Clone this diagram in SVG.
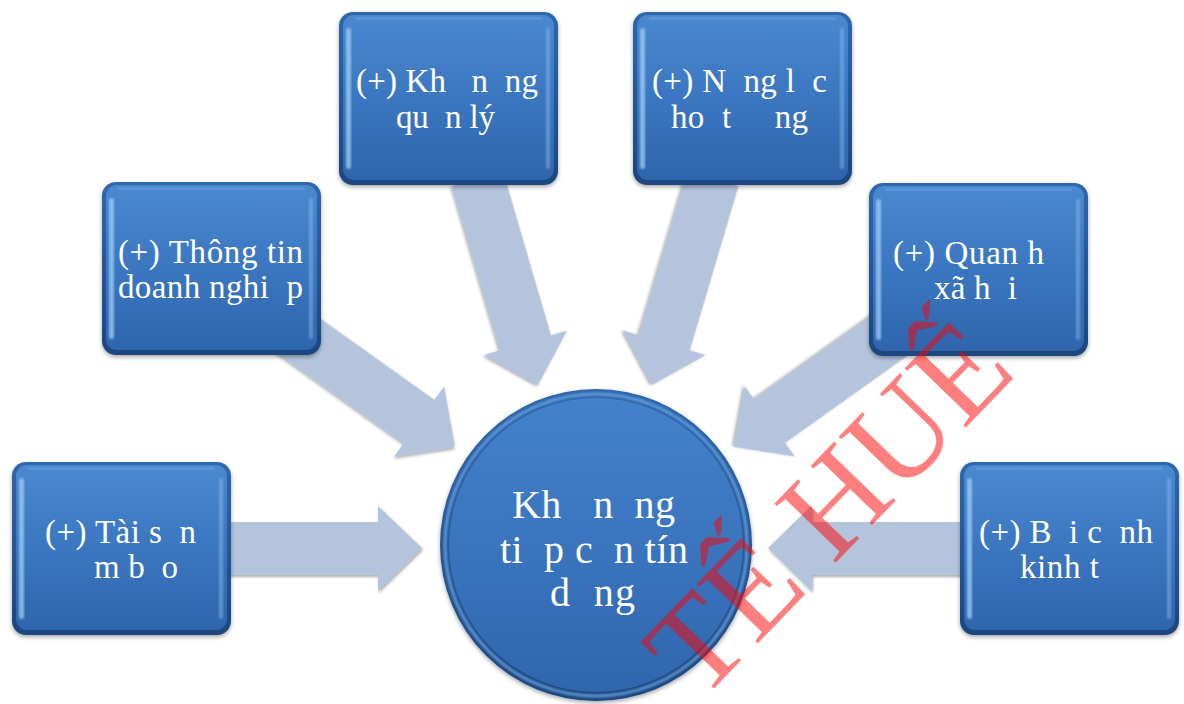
<svg xmlns="http://www.w3.org/2000/svg" xmlns:xlink="http://www.w3.org/1999/xlink" width="1184" height="704" viewBox="0 0 1184 704">
<defs>
<style>
.lbl{font-family:"Liberation Serif","Times New Roman",serif;font-size:33px;fill:#ffffff;white-space:pre}
.big{font-size:40px}
.arrow{fill:#b5c4dd;filter:url(#ashadow)}
.wm{font-family:"Liberation Serif","Times New Roman",serif;font-size:130px;fill:#ff0000;fill-opacity:0.5}
</style>
<linearGradient id="rim" x1="0" y1="0" x2="0" y2="1">
<stop offset="0" stop-color="#2f67ae"/><stop offset="1" stop-color="#1c467f"/>
</linearGradient>
<linearGradient id="face" x1="0" y1="0" x2="0" y2="1">
<stop offset="0" stop-color="#4a88cf"/><stop offset="0.5" stop-color="#3b77c0"/><stop offset="1" stop-color="#2f65ac"/>
</linearGradient>
<linearGradient id="cface" x1="0" y1="0" x2="0" y2="1">
<stop offset="0" stop-color="#4382cb"/><stop offset="0.6" stop-color="#3872bb"/><stop offset="1" stop-color="#3066ad"/>
</linearGradient>
<filter id="bshadow" x="-10%" y="-10%" width="120%" height="125%">
<feDropShadow dx="0" dy="2" stdDeviation="2" flood-color="#000" flood-opacity="0.35"/>
</filter>
<filter id="ashadow" x="-10%" y="-20%" width="120%" height="140%">
<feDropShadow dx="1" dy="2" stdDeviation="1.5" flood-color="#3a4556" flood-opacity="0.45"/>
</filter>
<filter id="soft"><feGaussianBlur stdDeviation="1"/></filter>
<g id="boxshape">
<rect x="0" y="0" width="219" height="173" rx="14" fill="url(#rim)" filter="url(#bshadow)"/>
<rect x="4" y="3" width="211" height="165" rx="11" fill="url(#face)"/>
<rect x="7" y="16" width="5" height="141" rx="2.5" fill="#a3cff7" opacity="0.75" filter="url(#soft)"/>
<rect x="207" y="16" width="4" height="141" rx="2" fill="#8cbcec" opacity="0.5" filter="url(#soft)"/>
<rect x="16" y="5" width="187" height="3" rx="1.5" fill="#79aee6" opacity="0.35"/>
</g>
<polygon id="arr" points="-215,-26.5 -44,-26.5 -44,-43 0,0 -44,43 -44,26.5 -215,26.5"/>
</defs>
<rect width="1184" height="704" fill="#ffffff"/>

<g id="connectors">
<polygon class="arrow" points="222,522 378,522 378,506 422,548 378,591 378,575 222,575"/>
<polygon class="arrow" points="968,522 812,522 812,505 768,548 812,591 812,575 968,575"/>
<use xlink:href="#arr" class="arrow" transform="translate(455,447) rotate(35.5)"/>
<use xlink:href="#arr" class="arrow" transform="translate(538,385) rotate(73.7)"/>
<use xlink:href="#arr" class="arrow" transform="translate(652,385) rotate(106.5)"/>
<use xlink:href="#arr" class="arrow" transform="translate(734,447) rotate(144.5)"/>
</g>

<g id="node-quanly">
<use xlink:href="#boxshape" x="339" y="12"/>
<text class="lbl" xml:space="preserve" x="356" y="92" textLength="182" lengthAdjust="spacing">(+) Kh   n  ng</text>
<text class="lbl" xml:space="preserve" x="396" y="128" textLength="99" lengthAdjust="spacing">qu  n lý</text>
</g>
<g id="node-nangluc">
<use xlink:href="#boxshape" x="633" y="12"/>
<text class="lbl" xml:space="preserve" x="652" y="92" textLength="175" lengthAdjust="spacing">(+) N  ng l  c</text>
<text class="lbl" xml:space="preserve" x="671" y="128" textLength="137" lengthAdjust="spacing">ho  t     ng</text>
</g>
<g id="node-thongtin">
<use xlink:href="#boxshape" x="102" y="182"/>
<text class="lbl" xml:space="preserve" x="118" y="263" textLength="185" lengthAdjust="spacing">(+) Thông tin</text>
<text class="lbl" xml:space="preserve" x="118" y="298" textLength="185" lengthAdjust="spacing">doanh nghi  p</text>
</g>
<g id="node-quanhe">
<use xlink:href="#boxshape" x="869" y="183"/>
<text class="lbl" xml:space="preserve" x="893" y="264" textLength="151" lengthAdjust="spacing">(+) Quan h</text>
<text class="lbl" xml:space="preserve" x="934" y="299" textLength="83" lengthAdjust="spacing">xã h  i</text>
</g>
<g id="node-taisan">
<use xlink:href="#boxshape" x="12" y="462"/>
<text class="lbl" xml:space="preserve" x="45" y="543" textLength="151" lengthAdjust="spacing">(+) Tài s  n</text>
<text class="lbl" xml:space="preserve" x="94" y="578" textLength="84" lengthAdjust="spacing">m b  o</text>
</g>
<g id="node-boicanh">
<use xlink:href="#boxshape" x="960" y="462"/>
<text class="lbl" xml:space="preserve" x="979" y="543" textLength="174" lengthAdjust="spacing">(+) B  i c  nh</text>
<text class="lbl" xml:space="preserve" x="1020" y="578" textLength="79" lengthAdjust="spacing">kinh t</text>
</g>
<g id="node-center">
<circle cx="596" cy="545" r="156" fill="url(#rim)" filter="url(#bshadow)"/>
<circle cx="596" cy="545" r="151" fill="none" stroke="#6ea7e2" stroke-width="3" opacity="0.8" filter="url(#soft)"/>
<circle cx="596" cy="545" r="147" fill="url(#cface)"/>
<text class="lbl big" xml:space="preserve" x="512" y="518" textLength="163" lengthAdjust="spacing">Kh   n  ng</text>
<text class="lbl big" xml:space="preserve" x="500" y="563" textLength="188" lengthAdjust="spacing">ti  p c  n tín</text>
<text class="lbl big" xml:space="preserve" x="550" y="606" textLength="85" lengthAdjust="spacing">d  ng</text>
</g>

<text class="wm" x="700" y="703" transform="rotate(-46 700 703)">TẾ HUẾ</text>
</svg>
